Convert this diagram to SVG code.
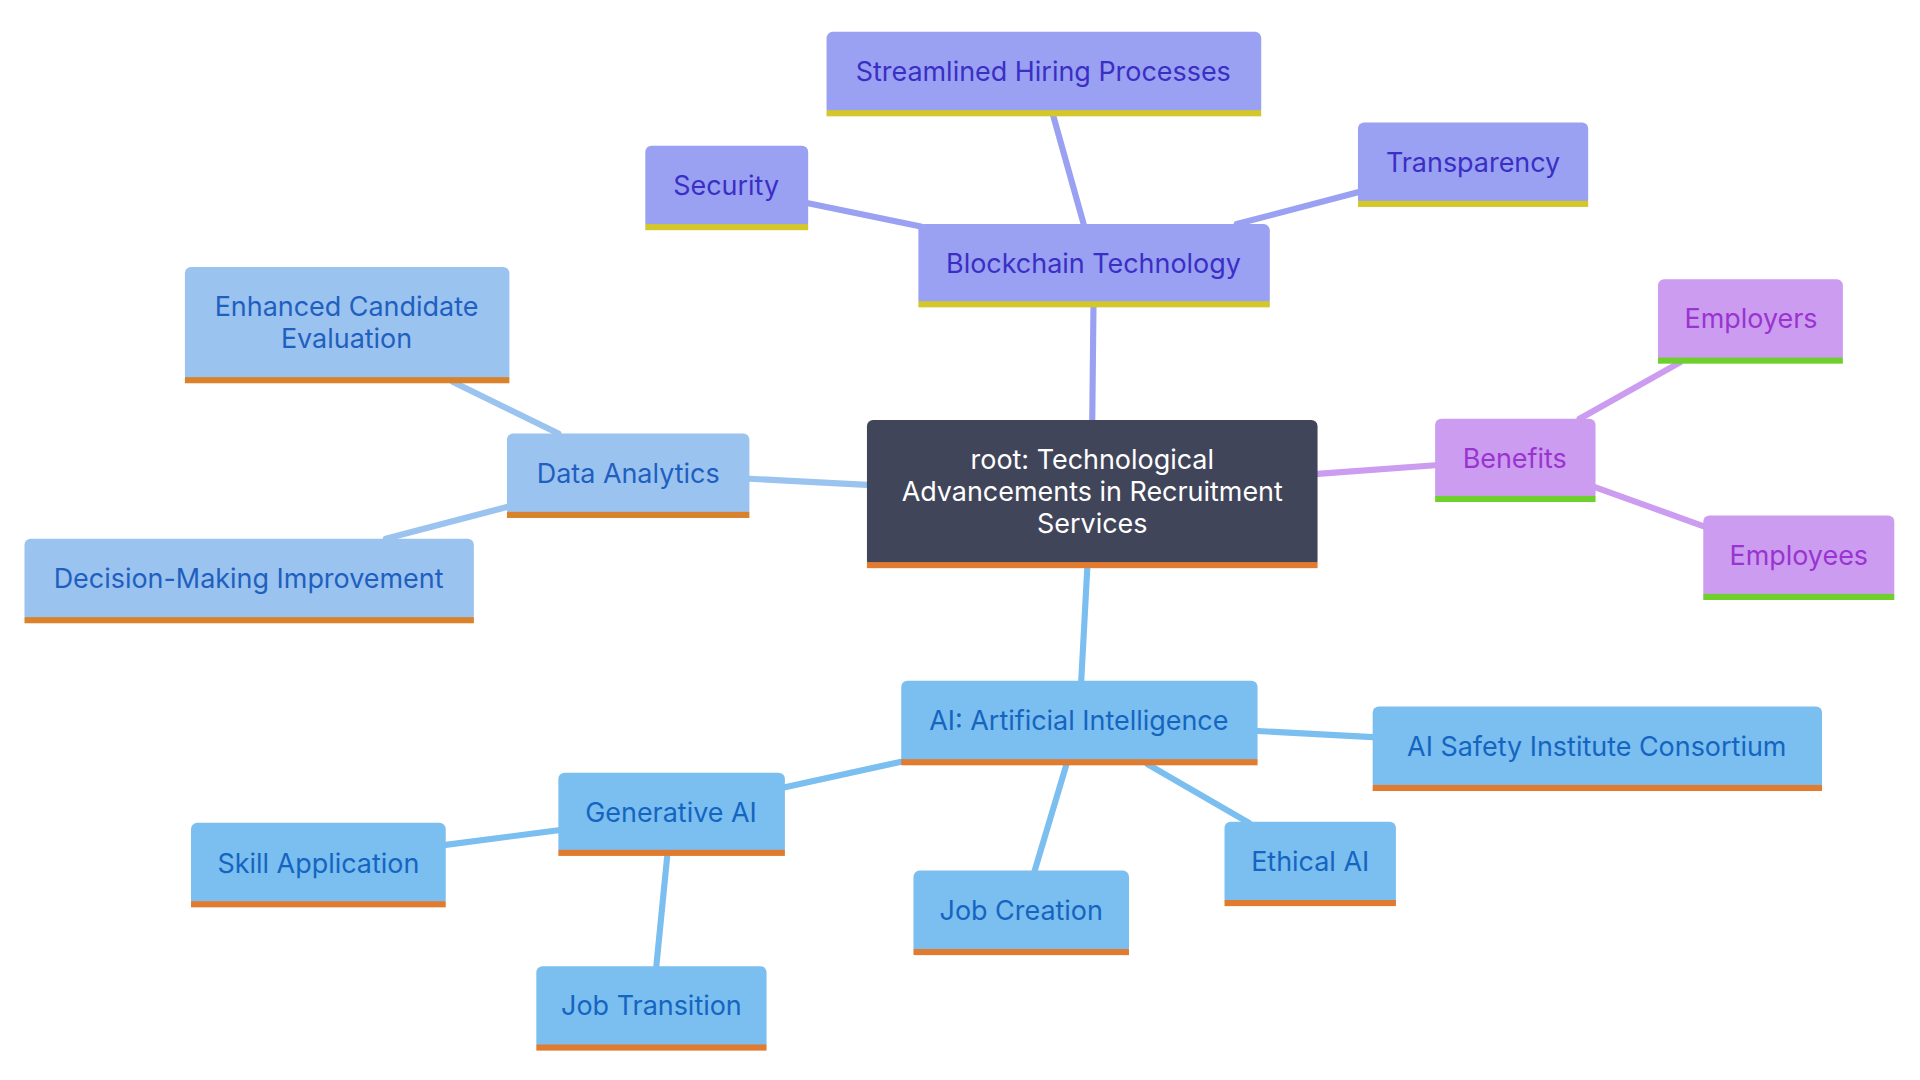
<svg xmlns="http://www.w3.org/2000/svg" width="1920" height="1080" viewBox="0 0 1920 1080">
<style>
text{font-family:Inter,"Noto Sans",sans-serif;font-size:22px;text-anchor:middle;dominant-baseline:central}
.b rect.f{fill:#9aa0f2}.b rect.u{fill:#d4c72a}.b text{fill:#3a2fc4}
.d rect.f{fill:#9ac3ef}.d rect.u{fill:#d9822b}.d text{fill:#1f5fbf}
.e rect.f{fill:#cc9cf0}.e rect.u{fill:#6fcf2d}.e text{fill:#9a34d0}
.a rect.f{fill:#7bbef0}.a rect.u{fill:#e07b2f}.a text{fill:#1565c0}
.r rect.f{fill:#414559}.r rect.u{fill:#e07b2f}.r text{fill:#ffffff}
#edges line{stroke-width:5;stroke-linecap:round}
</style>
<rect width="1920" height="1080" fill="#ffffff"/>
<g transform="scale(1.2245)">
<g id="edges">
<line x1="892" y1="343" x2="893" y2="250" stroke="#9aa0f2"/>
<line x1="885" y1="183" x2="860" y2="94" stroke="#9aa0f2"/>
<line x1="752" y1="185" x2="660" y2="166" stroke="#9aa0f2"/>
<line x1="1010" y1="183" x2="1109" y2="157" stroke="#9aa0f2"/>
<line x1="708" y1="396" x2="612" y2="391" stroke="#9ac3ef"/>
<line x1="456" y1="354" x2="370" y2="312" stroke="#9ac3ef"/>
<line x1="414" y1="414" x2="315" y2="440" stroke="#9ac3ef"/>
<line x1="1076" y1="387" x2="1172" y2="380" stroke="#cc9cf0"/>
<line x1="1290" y1="342" x2="1372" y2="296" stroke="#cc9cf0"/>
<line x1="1303" y1="398" x2="1392" y2="430" stroke="#cc9cf0"/>
<line x1="888" y1="463" x2="883" y2="556" stroke="#7bbef0"/>
<line x1="736" y1="622" x2="641" y2="643" stroke="#7bbef0"/>
<line x1="871" y1="624" x2="845" y2="711" stroke="#7bbef0"/>
<line x1="937" y1="624" x2="1020" y2="672" stroke="#7bbef0"/>
<line x1="1027" y1="597" x2="1121" y2="602" stroke="#7bbef0"/>
<line x1="456" y1="678" x2="364" y2="690" stroke="#7bbef0"/>
<line x1="545" y1="698" x2="536" y2="789" stroke="#7bbef0"/>
</g>
<g id="root" class="r"><rect class="f" x="708" y="343" width="368" height="120" rx="5"/><rect class="u" x="708" y="459" width="368" height="5"/><text x="892" y="375">root: Technological</text><text x="892" y="401">Advancements in Recruitment</text><text x="892" y="427">Services</text></g>
<g id="blockchain" class="b"><rect class="f" x="750" y="183" width="287" height="67" rx="5"/><rect class="u" x="750" y="246" width="287" height="5"/><text x="893" y="215">Blockchain Technology</text></g>
<g id="streamlined" class="b"><rect class="f" x="675" y="26" width="355" height="68" rx="5"/><rect class="u" x="675" y="90" width="355" height="5"/><text x="852" y="58">Streamlined Hiring Processes</text></g>
<g id="security" class="b"><rect class="f" x="527" y="119" width="133" height="68" rx="5"/><rect class="u" x="527" y="183" width="133" height="5"/><text x="593" y="151">Security</text></g>
<g id="transparency" class="b"><rect class="f" x="1109" y="100" width="188" height="68" rx="5"/><rect class="u" x="1109" y="164" width="188" height="5"/><text x="1203" y="132">Transparency</text></g>
<g id="dataanalytics" class="d"><rect class="f" x="414" y="354" width="198" height="68" rx="5"/><rect class="u" x="414" y="418" width="198" height="5"/><text x="513" y="386">Data Analytics</text></g>
<g id="enhanced" class="d"><rect class="f" x="151" y="218" width="265" height="94" rx="5"/><rect class="u" x="151" y="308" width="265" height="5"/><text x="283" y="250">Enhanced Candidate</text><text x="283" y="276">Evaluation</text></g>
<g id="decision" class="d"><rect class="f" x="20" y="440" width="367" height="68" rx="5"/><rect class="u" x="20" y="504" width="367" height="5"/><text x="203" y="472">Decision-Making Improvement</text></g>
<g id="benefits" class="e"><rect class="f" x="1172" y="342" width="131" height="67" rx="5"/><rect class="u" x="1172" y="405" width="131" height="5"/><text x="1237" y="374">Benefits</text></g>
<g id="employers" class="e"><rect class="f" x="1354" y="228" width="151" height="68" rx="5"/><rect class="u" x="1354" y="292" width="151" height="5"/><text x="1430" y="260">Employers</text></g>
<g id="employees" class="e"><rect class="f" x="1391" y="421" width="156" height="68" rx="5"/><rect class="u" x="1391" y="485" width="156" height="5"/><text x="1469" y="453">Employees</text></g>
<g id="ai" class="a"><rect class="f" x="736" y="556" width="291" height="68" rx="5"/><rect class="u" x="736" y="620" width="291" height="5"/><text x="881" y="588">AI: Artificial Intelligence</text></g>
<g id="generative" class="a"><rect class="f" x="456" y="631" width="185" height="67" rx="5"/><rect class="u" x="456" y="694" width="185" height="5"/><text x="548" y="663">Generative AI</text></g>
<g id="skill" class="a"><rect class="f" x="156" y="672" width="208" height="68" rx="5"/><rect class="u" x="156" y="736" width="208" height="5"/><text x="260" y="705">Skill Application</text></g>
<g id="jobtransition" class="a"><rect class="f" x="438" y="789" width="188" height="68" rx="5"/><rect class="u" x="438" y="853" width="188" height="5"/><text x="532" y="821">Job Transition</text></g>
<g id="jobcreation" class="a"><rect class="f" x="746" y="711" width="176" height="68" rx="5"/><rect class="u" x="746" y="775" width="176" height="5"/><text x="834" y="743">Job Creation</text></g>
<g id="ethical" class="a"><rect class="f" x="1000" y="671" width="140" height="68" rx="5"/><rect class="u" x="1000" y="735" width="140" height="5"/><text x="1070" y="703">Ethical AI</text></g>
<g id="safety" class="a"><rect class="f" x="1121" y="577" width="367" height="68" rx="5"/><rect class="u" x="1121" y="641" width="367" height="5"/><text x="1304" y="609">AI Safety Institute Consortium</text></g>
</g>
</svg>
